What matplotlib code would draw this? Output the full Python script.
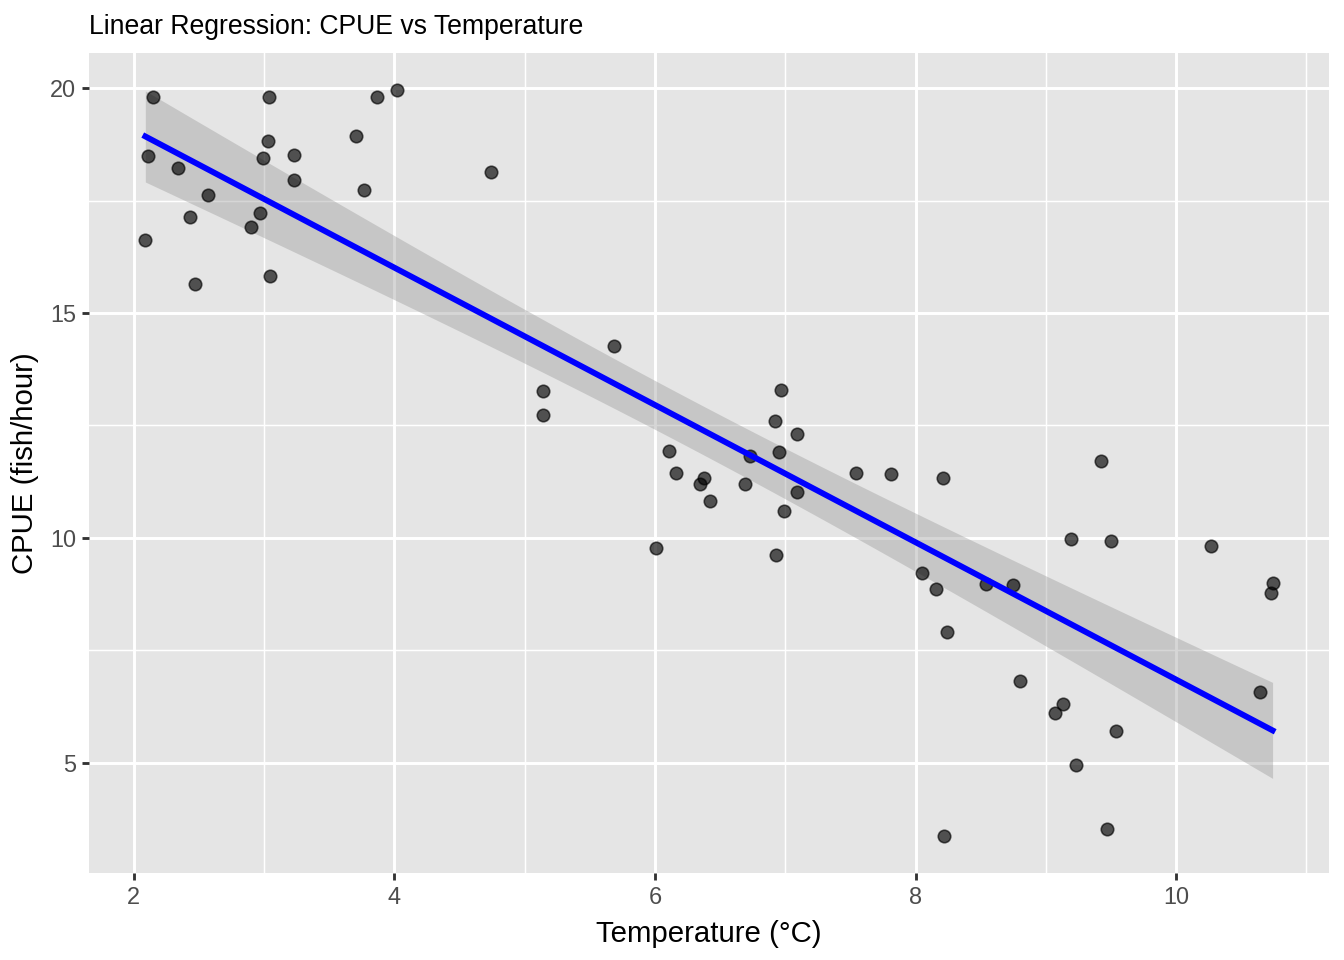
import numpy as np
import matplotlib
matplotlib.use("Agg")
import matplotlib.pyplot as plt
from matplotlib.ticker import MultipleLocator

plt.rcParams["font.family"] = ["Liberation Sans", "DejaVu Sans"]

# values
temperature = [
    2.09, 2.11, 2.15, 2.34, 2.43, 2.47, 2.57, 2.90, 2.97, 2.99,
    3.03, 3.04, 3.05, 3.23, 3.23, 3.71, 3.77, 3.87, 4.02, 4.74,
    5.14, 5.14, 5.69, 6.01, 6.11, 6.16, 6.35, 6.38, 6.42, 6.69,
    6.73, 6.92, 6.93, 6.95, 6.97, 6.99, 7.09, 7.09, 7.54, 7.81,
    8.21, 8.05, 8.16, 8.24, 8.22, 8.54, 8.75, 8.80, 9.07, 9.13,
    9.19, 9.23, 9.42, 9.47, 9.50, 9.54, 10.27, 10.64, 10.73, 10.74,
]
cpue = [
    16.62, 18.49, 19.80, 18.22, 17.15, 15.64, 17.64, 16.91, 17.22, 18.46,
    18.82, 19.80, 15.82, 18.51, 17.97, 18.95, 17.73, 19.80, 19.96, 18.15,
    13.26, 12.74, 14.28, 9.78, 11.94, 11.45, 11.19, 11.34, 10.83, 11.19,
    11.81, 12.61, 9.61, 11.90, 13.28, 10.59, 12.30, 11.03, 11.45, 11.41,
    11.34, 9.21, 8.87, 7.91, 3.37, 8.98, 8.94, 6.82, 6.11, 6.31,
    9.98, 4.95, 11.70, 3.53, 9.92, 5.71, 9.81, 6.56, 8.78, 9.00,
]
x_ticks = [2, 4, 6, 8, 10]
y_ticks = [5, 10, 15, 20]

title = "Linear Regression: CPUE vs Temperature"
x_label = "Temperature (°C)"
y_label = "CPUE (fish/hour)"

x = np.array(temperature)
y = np.array(cpue)

# ordinary least squares fit with a 95% confidence band (like geom_smooth(method="lm"))
n = len(x)
slope, intercept = np.polyfit(x, y, 1)
resid = y - (slope * x + intercept)
s_err = np.sqrt(np.sum(resid ** 2) / (n - 2))
t_crit = 2.0017  # t(0.975, df=58)
xs = np.linspace(x.min(), x.max(), 80)
ys = slope * xs + intercept
se_fit = s_err * np.sqrt(1.0 / n + (xs - x.mean()) ** 2 / np.sum((x - x.mean()) ** 2))

fig = plt.figure(figsize=(7, 5), dpi=192)
ax = fig.add_axes([0.0662, 0.0906, 0.9226, 0.8542])
ax.set_facecolor("#E5E5E5")
for sp in ax.spines.values():
    sp.set_visible(False)

ax.xaxis.set_major_locator(MultipleLocator(2))
ax.xaxis.set_minor_locator(MultipleLocator(1))
ax.yaxis.set_major_locator(MultipleLocator(5))
ax.yaxis.set_minor_locator(MultipleLocator(2.5))
ax.grid(which="major", color="white", linewidth=1.1)
ax.grid(which="minor", color="white", linewidth=0.55)
ax.set_axisbelow(True)

ax.fill_between(xs, ys - t_crit * se_fit, ys + t_crit * se_fit,
                color="#999999", alpha=0.4, linewidth=0, zorder=2)
ax.scatter(x, y, s=22, color="black", alpha=0.65, edgecolors="black",
           linewidths=0.6, zorder=3)
ax.plot(xs, ys, color="blue", linewidth=2.2, zorder=4)

xr = x.max() - x.min()
yr = y.max() - y.min()
ax.set_xlim(x.min() - 0.05 * xr, x.max() + 0.05 * xr)
ax.set_ylim(y.min() - 0.05 * yr, y.max() + 0.05 * yr)
ax.set_xticks(x_ticks)
ax.set_yticks(y_ticks)

ax.tick_params(which="major", length=2.75, width=1.07, color="#333333",
               labelsize=8.8, labelcolor="#4D4D4D", pad=2.2)
ax.tick_params(which="minor", length=0)

ax.set_xlabel(x_label, fontsize=11, labelpad=4)
ax.set_ylabel(y_label, fontsize=11, labelpad=4)
ax.set_title(title, fontsize=10, loc="left", pad=7)

fig.savefig("out.png", dpi=192)
